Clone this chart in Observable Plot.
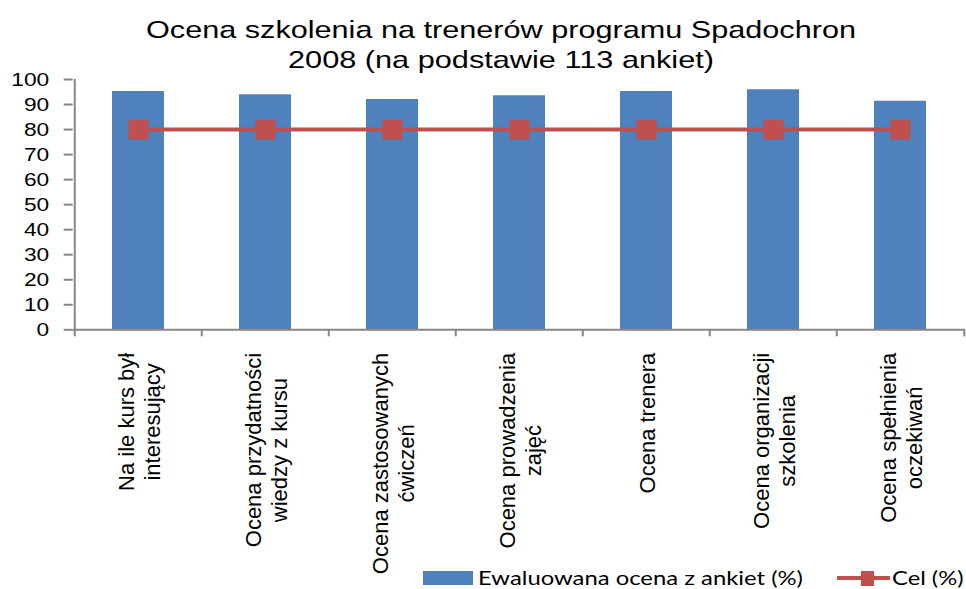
<!DOCTYPE html>
<html><head><meta charset="utf-8">
<script src="https://cdn.jsdelivr.net/npm/d3@7"></script>
<script src="https://cdn.jsdelivr.net/npm/@observablehq/plot@0.6"></script>
<style>
body{margin:0;background:#fff;}
#wrap{position:relative;width:966px;height:589px;overflow:hidden;font-family:"Liberation Sans",Arial,sans-serif;}
#wrap svg{position:absolute;left:0;top:0;}
.title{position:absolute;left:501px;white-space:nowrap;font-size:24.6px;line-height:29.7px;color:#000;transform-origin:center;}
.legtxt{position:absolute;white-space:nowrap;font-family:Lato,"Open Sans",sans-serif;font-size:20px;line-height:24px;color:#000;transform-origin:left center;}
.sw{position:absolute;}
</style></head><body>
<div id="wrap"></div>
<script>
const titleLines = ["Ocena szkolenia na trenerów programu Spadochron", "2008 (na podstawie 113 ankiet)"];
const categories = [
  "Na ile kurs był\ninteresujący",
  "Ocena przydatności\nwiedzy z kursu",
  "Ocena zastosowanych\nćwiczeń",
  "Ocena prowadzenia\nzajęć",
  "Ocena trenera",
  "Ocena organizacji\nszkolenia",
  "Ocena spełnienia\noczekiwań"
];
const evaluated = [95.2, 93.9, 92.0, 93.5, 95.2, 95.9, 91.3];
const target = [80, 80, 80, 80, 80, 80, 80];
const yTicks = [0, 10, 20, 30, 40, 50, 60, 70, 80, 90, 100];
const seriesNames = ["Ewaluowana ocena z ankiet (%)", "Cel (%)"];
const colors = ["#4F81BD", "#C0504D"];

const W = 966, H = 589, mL = 72.7, mR = 1, mT = 79, mB = H - 329.3;
const pIn = 0.588, pOut = pIn / 2;
const n = categories.length;
const step = (W - mL - mR) / (n - pIn + 2 * pOut);
const gray = "#868686";
const data = categories.map((c, i) => ({cat: c, value: evaluated[i], goal: target[i]}));

// measure label lines so each label block is top-aligned with centred lines
const labelFont = 22;
const ctx = document.createElement("canvas").getContext("2d");
ctx.font = `${labelFont}px "Liberation Sans", Arial, sans-serif`;
const labelLen = categories.map(c => d3.max(c.split("\n"), s => ctx.measureText(s).width));

const labelMarks = data.map((d, i) =>
  Plot.text([d], {x: "cat", text: "cat", frameAnchor: "bottom", dy: 23 + labelLen[i] / 2, rotate: -90,
    textAnchor: "middle", lineAnchor: "middle", lineHeight: 1.17, fontSize: labelFont, fill: "#000"})
);

const plot = Plot.plot({
  width: W, height: H,
  marginTop: mT, marginBottom: mB, marginLeft: mL, marginRight: mR,
  style: {fontFamily: '"Liberation Sans", Arial, sans-serif', overflow: "visible", background: "transparent"},
  x: {domain: categories, paddingInner: pIn, paddingOuter: pOut, axis: null},
  y: {domain: [0, 100], axis: null},
  marks: [
    Plot.barY(data, {x: "cat", y: "value", fill: colors[0]}),
    Plot.ruleY([0], {stroke: gray, strokeWidth: 2}),
    Plot.ruleX(categories, {x: d => d, y1: 0, y2: 0, insetBottom: -7, dx: -step / 2, stroke: gray, strokeWidth: 2}),
    Plot.ruleX(categories.slice(-1), {x: d => d, y1: 0, y2: 0, insetBottom: -7, dx: step / 2, stroke: gray, strokeWidth: 2}),
    Plot.ruleX(categories.slice(0, 1), {x: d => d, y1: 0, y2: 100, dx: -step / 2, stroke: gray, strokeWidth: 2}),
    Plot.axisY({ticks: yTicks, tickSize: 9, tickPadding: 15, fontSize: 19, stroke: gray, strokeWidth: 2, fill: "#000", label: null}),
    Plot.line(data, {x: "cat", y: "goal", stroke: colors[1], strokeWidth: 4}),
    Plot.dot(data, {x: "cat", y: "goal", symbol: "square", r: 11.3, fill: colors[1], stroke: "none"}),
    ...labelMarks
  ]
});
const wrap = document.getElementById("wrap");
wrap.appendChild(plot);

// widen y tick labels as in the reference
d3.select(plot).selectAll('[aria-label="y-axis tick label"] text').each(function() {
  const t = this.textContent;
  this.setAttribute("textLength", t.length * 12.65);
  this.setAttribute("lengthAdjust", "spacingAndGlyphs");
});

function fit(el, w) {
  const nat = el.getBoundingClientRect().width;
  return w / nat;
}
// title
const titleTops = [14.9, 44.6], titleW = [710, 426];
titleLines.forEach((t, i) => {
  const d = document.createElement("div");
  d.className = "title";
  d.textContent = t;
  d.style.top = titleTops[i] + "px";
  wrap.appendChild(d);
  const k = fit(d, titleW[i]);
  d.style.transform = `translateX(-50%) scaleX(${k})`;
});

// legend
function box(l, t, w, h, c) {
  const d = document.createElement("div");
  d.className = "sw";
  Object.assign(d.style, {left: l + "px", top: t + "px", width: w + "px", height: h + "px", background: c});
  wrap.appendChild(d);
}
function ltext(t, l, top, w) {
  const d = document.createElement("div");
  d.className = "legtxt";
  d.textContent = t;
  d.style.left = l + "px";
  d.style.top = top + "px";
  wrap.appendChild(d);
  d.style.transform = `scaleX(${fit(d, w)})`;
}
box(423.3, 571, 49.4, 14, colors[0]);
ltext(seriesNames[0], 478.3, 564.6, 325);
box(836.7, 575.7, 53.3, 4, colors[1]);
box(860.7, 570.5, 13.5, 15, colors[1]);
ltext(seriesNames[1], 891.7, 564.6, 71.6);
</script>
</body></html>
